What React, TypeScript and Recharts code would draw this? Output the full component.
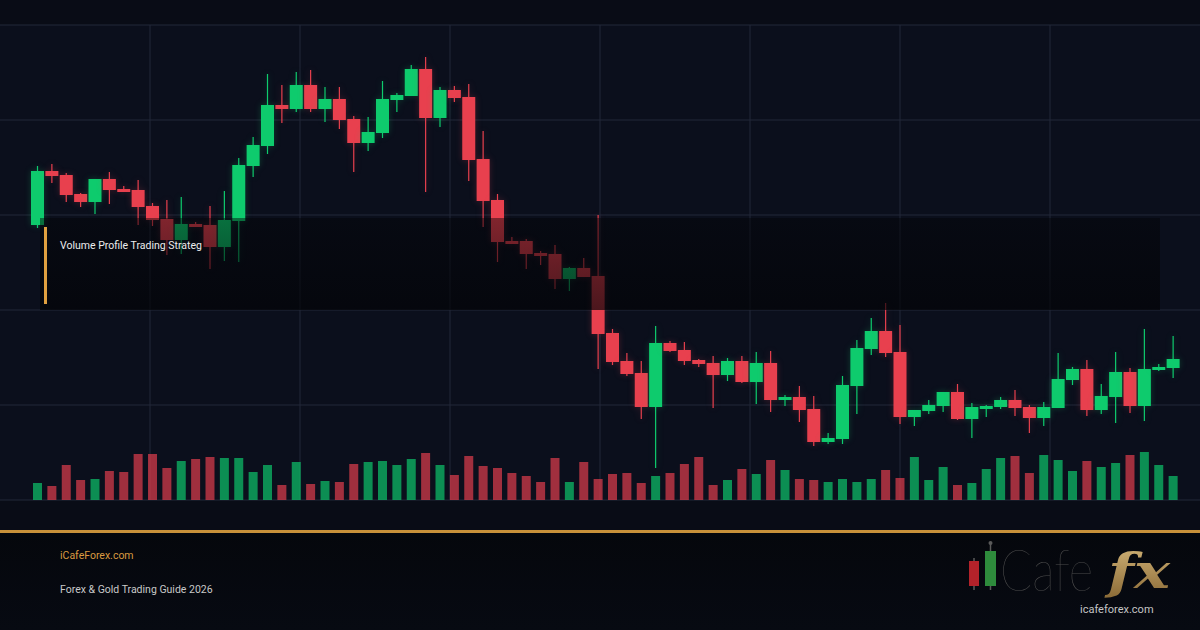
import { ComposedChart, Bar, XAxis, YAxis, CartesianGrid, Cell } from 'recharts';

// OHLC, one entry per session
const opens = [
  2275, 2329, 2325, 2306, 2298, 2321, 2311, 2310, 2294, 2281,
  2260, 2276, 2275, 2253, 2279, 2334, 2354, 2395, 2391, 2415,
  2391, 2401, 2381, 2357, 2367, 2400, 2404, 2431, 2382, 2410,
  2403, 2341, 2300, 2259, 2259, 2247, 2246, 2221, 2232, 2224,
  2167, 2139, 2127, 2093, 2157, 2150, 2140, 2137, 2125, 2139,
  2118, 2137, 2100, 2103, 2091, 2058, 2061, 2114, 2151, 2169,
  2148, 2083, 2089, 2094, 2108, 2081, 2091, 2093, 2100, 2093,
  2082, 2092, 2120, 2131, 2090, 2103, 2128, 2094, 2130, 2132,
];
const highs = [
  2334, 2336, 2327, 2307, 2321, 2328, 2314, 2320, 2297, 2300,
  2303, 2278, 2294, 2309, 2342, 2363, 2426, 2415, 2428, 2430,
  2413, 2413, 2384, 2383, 2419, 2407, 2435, 2443, 2413, 2414,
  2416, 2369, 2306, 2263, 2261, 2249, 2255, 2233, 2242, 2285,
  2171, 2147, 2139, 2174, 2159, 2158, 2141, 2144, 2142, 2144,
  2148, 2149, 2105, 2114, 2104, 2067, 2124, 2160, 2182, 2197,
  2175, 2090, 2100, 2108, 2116, 2097, 2095, 2103, 2110, 2095,
  2098, 2147, 2133, 2140, 2116, 2148, 2132, 2171, 2136, 2164,
];
const lows = [
  2272, 2317, 2298, 2293, 2286, 2296, 2308, 2275, 2274, 2245,
  2246, 2273, 2231, 2239, 2238, 2323, 2346, 2377, 2388, 2388,
  2378, 2371, 2328, 2349, 2362, 2388, 2404, 2308, 2373, 2398,
  2319, 2273, 2238, 2256, 2231, 2235, 2211, 2209, 2223, 2131,
  2135, 2124, 2081, 2032, 2148, 2135, 2133, 2092, 2119, 2117,
  2096, 2088, 2094, 2078, 2054, 2056, 2056, 2086, 2145, 2143,
  2076, 2074, 2086, 2088, 2080, 2062, 2083, 2091, 2084, 2067,
  2074, 2092, 2115, 2084, 2086, 2077, 2087, 2079, 2129, 2122,
];
const closes = [
  2329, 2324, 2305, 2298, 2321, 2310, 2308, 2293, 2280, 2260,
  2276, 2273, 2253, 2280, 2335, 2355, 2395, 2391, 2415, 2391,
  2401, 2380, 2357, 2368, 2401, 2405, 2431, 2382, 2410, 2402,
  2340, 2299, 2258, 2256, 2246, 2244, 2221, 2232, 2223, 2166,
  2138, 2126, 2093, 2157, 2149, 2139, 2136, 2125, 2139, 2118,
  2137, 2100, 2103, 2090, 2058, 2062, 2115, 2152, 2169, 2147,
  2083, 2090, 2095, 2108, 2081, 2093, 2094, 2100, 2092, 2082,
  2093, 2121, 2131, 2090, 2104, 2128, 2094, 2131, 2133, 2141,
];
const volumes = [
  1700, 1400, 3500, 2000, 2100, 2900, 2800, 4600, 4600, 3200,
  3900, 4100, 4300, 4200, 4200, 2800, 3500, 1500, 3800, 1600,
  1900, 1800, 3600, 3800, 3900, 3500, 4100, 4700, 3500, 2500,
  4400, 3400, 3200, 2700, 2400, 1800, 4200, 1800, 3800, 2100,
  2600, 2700, 1700, 2400, 2700, 3600, 4300, 1500, 2000, 3100,
  2600, 4000, 3000, 2100, 2000, 1800, 2100, 1800, 2100, 3000,
  2200, 4300, 2000, 3300, 1500, 1700, 3100, 4200, 4400, 2700,
  4500, 4000, 2900, 3900, 3300, 3700, 4500, 4800, 3500, 2400,
];
const priceTicks = [2000, 2095, 2190, 2285, 2380, 2475];

const GREEN = '#0ecb6d';
const RED = '#e8404e';

const data = opens.map((open, i) => ({
  session: i + 1,
  open,
  high: highs[i],
  low: lows[i],
  close: closes[i],
  volume: volumes[i],
}));

const Candle = (props: any) => {
  const { x, y, width, height, payload } = props;
  const { open, close, high, low } = payload;
  const color = close >= open ? GREEN : RED;
  const toY = (v: number) => y + ((high - v) / (high - low)) * height;
  const cx = x + width / 2;
  const top = toY(Math.max(open, close));
  const bottom = toY(Math.min(open, close));
  return (
    <g style={{ filter: `drop-shadow(0 0 3px ${color}40)` }}>
      <line x1={cx} x2={cx} y1={y} y2={y + height} stroke={color} strokeWidth={1.2} />
      <rect x={x} y={top} width={width} height={Math.max(bottom - top, 1.5)} fill={color} />
    </g>
  );
};

const gridColumns = ({ width }: any) => {
  const cols: number[] = [];
  for (let v = 150; v < width; v += 150) cols.push(v);
  return cols;
};

const Logo = () => (
  <svg width={240} height={95} viewBox="960 535 240 95" style={{ position: 'absolute', left: 960, top: 535 }}>
    <defs>
      <linearGradient id="gold" x1="0" y1="0" x2="0" y2="1">
        <stop offset="0%" stopColor="#d2b478" />
        <stop offset="100%" stopColor="#8a6a36" />
      </linearGradient>
    </defs>
    <line x1={974} x2={974} y1={558} y2={590} stroke="#5a5a5a" strokeWidth={1.5} />
    <rect x={969} y={561} width={10} height={25} fill="#b3222a" />
    <line x1={990.5} x2={990.5} y1={543} y2={590} stroke="#5a5a5a" strokeWidth={1.5} />
    <circle cx={990.5} cy={543} r={2} fill="#5a5a5a" />
    <rect x={985} y={551} width={11} height={35} fill="#2e8b3c" />
    <text x={1000} y={591} fontSize={58} fontWeight={200} fontFamily="Lato, 'Open Sans', sans-serif"
      fill="#4d4d4d" textLength={93} lengthAdjust="spacingAndGlyphs">Cafe</text>
    <text x={1108} y={588} fontSize={48} fontWeight={700} fontStyle="italic" fontFamily="'DejaVu Serif', serif"
      fill="url(#gold)" textLength={62} lengthAdjust="spacingAndGlyphs">fx</text>
    <text x={1080} y={613} fontSize={11} fontFamily="Roboto, sans-serif" fill="#c4c4c4">icafeforex.com</text>
  </svg>
);

export default function App() {
  return (
    <div style={{ position: 'absolute', left: 0, top: 0, width: 1200, height: 630, overflow: 'hidden',
      background: '#090c16', fontFamily: 'Roboto, sans-serif' }}>
      <ComposedChart width={1200} height={530} data={data} margin={{ top: 25, right: 0, bottom: 30, left: 0 }}>
        <CartesianGrid stroke="#222838" strokeWidth={1} fill="#0b0f1c" yAxisId="price" xAxisId="price"
          verticalCoordinatesGenerator={gridColumns} />
        <XAxis xAxisId="price" dataKey="session" hide padding={{ left: 30, right: 20 }} />
        <XAxis xAxisId="vol" dataKey="session" hide padding={{ left: 30, right: 20 }} />
        <YAxis yAxisId="price" hide domain={[2000, 2475]} ticks={priceTicks} />
        <YAxis yAxisId="vol" hide domain={[0, 47500]} />
        <Bar xAxisId="vol" yAxisId="vol" dataKey="volume" barSize={9} isAnimationActive={false}>
          {data.map((d, i) => (
            <Cell key={`v-${i}`} fill={d.close >= d.open ? GREEN : RED} fillOpacity={0.68} />
          ))}
        </Bar>
        <Bar xAxisId="price" yAxisId="price" dataKey={(d: any) => [d.low, d.high]} barSize={13}
          shape={<Candle />} isAnimationActive={false} />
      </ComposedChart>

      <div style={{ position: 'absolute', left: 40, top: 218, width: 1120, height: 92,
        background: 'linear-gradient(rgba(2,3,6,0.45), rgba(2,3,6,0.68))' }} />
      <div style={{ position: 'absolute', left: 44, top: 227, width: 3, height: 77, background: '#e0a040' }} />
      <div style={{ position: 'absolute', left: 60, top: 239, fontSize: 10.5, color: '#ececec', lineHeight: '14px' }}>
        Volume Profile Trading Strateg
      </div>

      <div style={{ position: 'absolute', left: 0, top: 530, width: 1200, height: 100,
        background: 'linear-gradient(#05070c, #070a12)' }} />
      <div style={{ position: 'absolute', left: 0, top: 530, width: 1200, height: 3, background: '#c8913a' }} />
      <div style={{ position: 'absolute', left: 60, top: 549, fontSize: 10.5, color: '#d99a40', lineHeight: '14px' }}>
        iCafeForex.com
      </div>
      <div style={{ position: 'absolute', left: 60, top: 583, fontSize: 10.5, color: '#c9c9c9', lineHeight: '14px' }}>
        Forex &amp; Gold Trading Guide 2026
      </div>
      <Logo />
    </div>
  );
}
